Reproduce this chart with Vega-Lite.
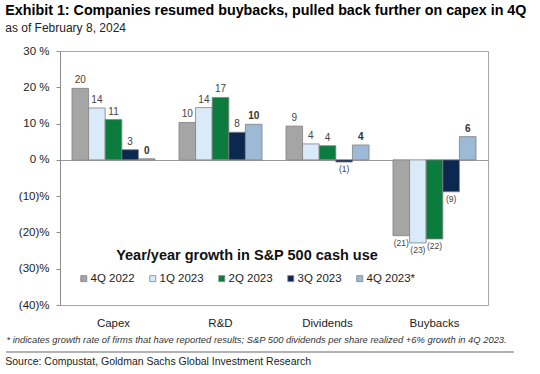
{
  "$schema": "https://vega.github.io/schema/vega-lite/v6.json",
  "padding": {"left": 5, "top": 4, "right": 5, "bottom": 0},
  "background": "white",
  "config": {"font": "Liberation Sans", "view": {"stroke": null}},
  "title": {
    "text": "Exhibit 1: Companies resumed buybacks, pulled back further on capex in 4Q",
    "subtitle": "as of February 8, 2024",
    "anchor": "start",
    "frame": "bounds",
    "fontSize": 14.3,
    "fontWeight": "bold",
    "color": "#000000",
    "subtitleFontSize": 12,
    "subtitleColor": "#222222",
    "subtitlePadding": 4,
    "offset": 11
  },
  "spacing": 6,
  "vconcat": [
    {
      "width": 428,
      "height": 254,
      "view": {"stroke": "#a6a6a6"},
      "data": {
        "values": [
          {"category": "Capex", "quarter": "4Q 2022", "value": 19.7},
          {"category": "Capex", "quarter": "1Q 2023", "value": 14.3},
          {"category": "Capex", "quarter": "2Q 2023", "value": 11.1},
          {"category": "Capex", "quarter": "3Q 2023", "value": 2.8},
          {"category": "Capex", "quarter": "4Q 2023*", "value": 0.3},
          {"category": "R&D", "quarter": "4Q 2022", "value": 10.3},
          {"category": "R&D", "quarter": "1Q 2023", "value": 14.4},
          {"category": "R&D", "quarter": "2Q 2023", "value": 17.2},
          {"category": "R&D", "quarter": "3Q 2023", "value": 7.6},
          {"category": "R&D", "quarter": "4Q 2023*", "value": 9.8},
          {"category": "Dividends", "quarter": "4Q 2022", "value": 9.3},
          {"category": "Dividends", "quarter": "1Q 2023", "value": 4.4},
          {"category": "Dividends", "quarter": "2Q 2023", "value": 3.9},
          {"category": "Dividends", "quarter": "3Q 2023", "value": -0.6},
          {"category": "Dividends", "quarter": "4Q 2023*", "value": 4.1},
          {"category": "Buybacks", "quarter": "4Q 2022", "value": -20.9},
          {"category": "Buybacks", "quarter": "1Q 2023", "value": -22.9},
          {"category": "Buybacks", "quarter": "2Q 2023", "value": -21.8},
          {"category": "Buybacks", "quarter": "3Q 2023", "value": -8.8},
          {"category": "Buybacks", "quarter": "4Q 2023*", "value": 6.4}
        ]
      },
      "encoding": {
        "x": {
          "field": "category", "type": "nominal",
          "sort": ["Capex", "R&D", "Dividends", "Buybacks"],
          "scale": {"paddingInner": 0.224, "paddingOuter": 0.112},
          "axis": {
            "title": "* indicates growth rate of firms that have reported results; S&P 500 dividends per share realized +6% growth in 4Q 2023.",
            "labelAngle": 0, "domain": false, "ticks": false,
            "labelFontSize": 11.5, "labelColor": "#222222", "labelPadding": 12,
            "titleFontSize": 9.4, "titleFontStyle": "italic", "titleFontWeight": "normal",
            "titleColor": "#333333", "titlePadding": 7, "titleAnchor": "start", "titleX": -54,
            "titleLimit": 600
          }
        },
        "xOffset": {
          "field": "quarter", "type": "nominal",
          "sort": ["4Q 2022", "1Q 2023", "2Q 2023", "3Q 2023", "4Q 2023*"],
          "scale": {"paddingInner": 0, "paddingOuter": 0}
        },
        "y": {
          "field": "value", "type": "quantitative",
          "scale": {"domain": [-40, 30], "nice": false},
          "axis": {
            "title": null,
            "grid": true,
            "gridColor": {"condition": {"test": "datum.value === 0", "value": "#9a9a9a"}, "value": null},
            "gridOpacity": {"condition": {"test": "datum.value === 0", "value": 1}, "value": 0},
            "values": [-40, -30, -20, -10, 0, 10, 20, 30],
            "labelOverlap": false,
            "labelExpr": "datum.value >= 0 ? datum.value + ' %' : '(' + abs(datum.value) + ')%'",
            "domainColor": "#8c8c8c", "tickColor": "#8c8c8c", "tickSize": 4,
            "labelFontSize": 11.5, "labelColor": "#222222", "labelPadding": 7
          }
        }
      },
      "layer": [
        {
          "mark": {"type": "bar", "stroke": "#808080", "strokeWidth": 0.8},
          "encoding": {
            "color": {
              "field": "quarter", "type": "nominal",
              "scale": {
                "domain": ["4Q 2022", "1Q 2023", "2Q 2023", "3Q 2023", "4Q 2023*"],
                "range": ["#a5a5a5", "#d9eaf9", "#0b7b3e", "#0b2850", "#9cbad6"]
              },
              "legend": {
                "orient": "none", "legendX": 18, "legendY": 198,
                "direction": "horizontal", "columns": 5,
                "title": "Year/year growth in S&P 500 cash use",
                "titleFontSize": 14.5, "titleFontWeight": "bold", "titleColor": "#111111",
                "titleAnchor": "middle", "titlePadding": 9, "titleLimit": 500,
                "symbolType": "square", "symbolSize": 36,
                "symbolStrokeColor": "#808080", "symbolStrokeWidth": 0.8,
                "labelFontSize": 11.5, "labelColor": "#222222",
                "columnPadding": 12, "labelOffset": 1
              }
            }
          }
        },
        {
          "transform": [{"filter": "datum.value >= 0 && datum.quarter != '4Q 2023*'"}],
          "mark": {"type": "text", "baseline": "bottom", "dy": -3, "fontSize": 10, "color": "#444444"},
          "encoding": {
            "text": {"field": "value", "type": "quantitative", "format": "(.0f"}
          }
        },
        {
          "transform": [{"filter": "datum.value >= 0 && datum.quarter == '4Q 2023*'"}],
          "mark": {"type": "text", "baseline": "bottom", "dy": -3, "fontSize": 10, "fontWeight": "bold", "color": "#333333"},
          "encoding": {
            "text": {"field": "value", "type": "quantitative", "format": "(.0f"}
          }
        },
        {
          "transform": [{"filter": "datum.value < 0"}],
          "mark": {"type": "text", "baseline": "top", "dy": 3, "fontSize": 8.5, "color": "#444444"},
          "encoding": {
            "text": {"field": "value", "type": "quantitative", "format": "(.0f"}
          }
        }
      ]
    },
    {
      "width": 428,
      "height": 1,
      "data": {"values": [{}]},
      "mark": {"type": "rule", "color": "#9a9a9a", "strokeWidth": 1.5},
      "encoding": {"y": {"value": 0}, "x": {"value": -54}, "x2": {"value": 454}},
      "title": {
        "text": "Source: Compustat, Goldman Sachs Global Investment Research",
        "orient": "bottom", "anchor": "start", "fontSize": 10.5, "fontWeight": "normal",
        "color": "#222222", "offset": 4
      }
    }
  ]
}
